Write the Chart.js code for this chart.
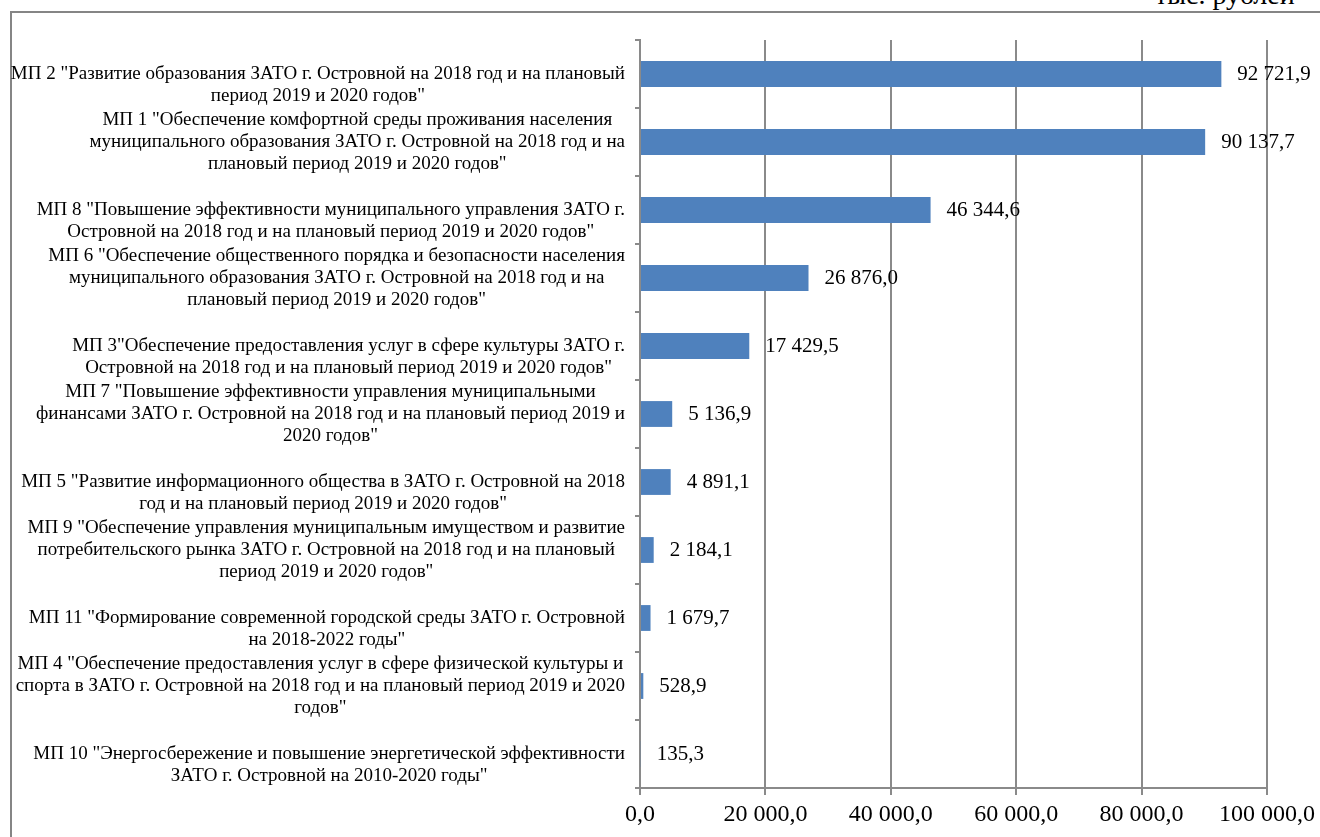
<!DOCTYPE html>
<html>
<head>
<meta charset="utf-8">
<script src="https://cdn.jsdelivr.net/npm/chart.js@4"></script>
<style>
  html, body { margin: 0; padding: 0; background: #ffffff; overflow: hidden; }
  #wrap { position: relative; width: 1320px; height: 837px; }
  #frame { position: absolute; left: 10px; top: 11px; width: 1400px; height: 900px; border: 2px solid #858585; box-sizing: border-box; }
  #unit { position: absolute; left: 1155px; top: -21px; font-family: "Liberation Serif", serif; font-size: 28px; color: #000; white-space: nowrap; }
  canvas { position: absolute; left: 0; top: 0; }
</style>
</head>
<body>
<div id="wrap">
  <div id="frame"></div>
  <div id="unit">тыс. рублей</div>
  <canvas id="c" width="1320" height="837"></canvas>
</div>
<script>
const categories = [
  ['МП 2 "Развитие образования ЗАТО г. Островной на 2018 год и на плановый', 'период 2019 и 2020 годов"'],
  ['МП 1 "Обеспечение комфортной среды проживания населения', 'муниципального образования ЗАТО г. Островной на 2018 год и на', 'плановый период 2019 и 2020 годов"'],
  ['МП 8 "Повышение эффективности муниципального управления ЗАТО г.', 'Островной на 2018 год и на плановый период 2019 и 2020 годов"'],
  ['МП 6 "Обеспечение общественного порядка и безопасности населения', 'муниципального образования ЗАТО г. Островной на 2018 год и на', 'плановый период 2019 и 2020 годов"'],
  ['МП 3"Обеспечение предоставления услуг в сфере культуры ЗАТО г.', 'Островной на 2018 год и на плановый период 2019 и 2020 годов"'],
  ['МП 7 "Повышение эффективности управления муниципальными', 'финансами ЗАТО г. Островной на 2018 год и на плановый период 2019 и', '2020 годов"'],
  ['МП 5 "Развитие информационного общества в ЗАТО г. Островной на 2018', 'год и на плановый период 2019 и 2020 годов"'],
  ['МП 9 "Обеспечение управления муниципальным имуществом и развитие', 'потребительского рынка ЗАТО г. Островной на 2018 год и на плановый', 'период 2019 и 2020 годов"'],
  ['МП 11 "Формирование современной городской среды ЗАТО г. Островной', 'на 2018-2022 годы"'],
  ['МП 4 "Обеспечение предоставления услуг в сфере физической культуры и', 'спорта в ЗАТО г. Островной на 2018 год и на плановый период 2019 и 2020', 'годов"'],
  ['МП 10 "Энергосбережение и повышение энергетической эффективности', 'ЗАТО г. Островной на 2010-2020 годы"']
];
const values = [92721.9, 90137.7, 46344.6, 26876.0, 17429.5, 5136.9, 4891.1, 2184.1, 1679.7, 528.9, 135.3];
const xTicks = [0, 20000, 40000, 60000, 80000, 100000];

function fmt(v) {
  const s = v.toFixed(1);
  const parts = s.split('.');
  const intPart = parts[0].replace(/\B(?=(\d{3})+(?!\d))/g, ' ');
  return intPart + ',' + parts[1];
}

const FONT = '"Liberation Serif", "Times New Roman", serif';
const GRID = '#8a8a8a';

const labelPlugin = {
  id: 'labelPlugin',
  afterDraw(chart) {
    const ctx = chart.ctx;
    const yScale = chart.scales.y;
    const area = chart.chartArea;
    ctx.save();
    ctx.fillStyle = '#000';
    // category labels
    ctx.font = '19px ' + FONT;
    ctx.textBaseline = 'middle';
    ctx.textAlign = 'center';
    const lh = 22;
    const right = area.left - 15;
    categories.forEach((lines, i) => {
      const cy = yScale.getPixelForValue(i);
      let widest = 0;
      lines.forEach(l => { widest = Math.max(widest, ctx.measureText(l).width); });
      const cx = right - widest / 2;
      const y0 = cy - Math.floor((lines.length - 1) / 2) * lh;
      lines.forEach((l, k) => ctx.fillText(l, cx, y0 + k * lh));
    });
    // data labels
    ctx.font = '21px ' + FONT;
    ctx.textAlign = 'left';
    const meta = chart.getDatasetMeta(0);
    meta.data.forEach((bar, i) => {
      ctx.fillText(fmt(values[i]), bar.x + 16, bar.y);
    });
    ctx.restore();
  }
};

new Chart(document.getElementById('c'), {
  type: 'bar',
  data: {
    labels: categories.map(c => c.join(' ')),
    datasets: [{
      data: values,
      backgroundColor: '#4F81BD',
      borderWidth: 0,
      barPercentage: 0.38,
      categoryPercentage: 1.0
    }]
  },
  options: {
    indexAxis: 'y',
    responsive: false,
    animation: false,
    devicePixelRatio: 1,
    layout: { padding: { left: 0, right: 52, top: 40, bottom: 0 } },
    plugins: { legend: { display: false }, tooltip: { enabled: false } },
    scales: {
      x: {
        min: 0, max: 100000,
        afterBuildTicks(scale) { scale.ticks = xTicks.map(v => ({ value: v })); },
        afterFit(scale) { scale.height = 49; },
        ticks: {
          font: { family: FONT, size: 24 },
          color: '#000',
          padding: 5,
          maxRotation: 0,
          callback: v => fmt(v)
        },
        grid: { color: GRID, lineWidth: 2, tickLength: 7, drawTicks: true },
        border: { display: true, color: GRID, width: 2 }
      },
      y: {
        afterFit(scale) { scale.width = 640; },
        ticks: { display: false },
        grid: { drawOnChartArea: false, drawTicks: true, tickLength: 5, color: GRID, lineWidth: 2, offset: true },
        border: { display: true, color: GRID, width: 2 }
      }
    }
  },
  plugins: [labelPlugin]
});
</script>
</body>
</html>
